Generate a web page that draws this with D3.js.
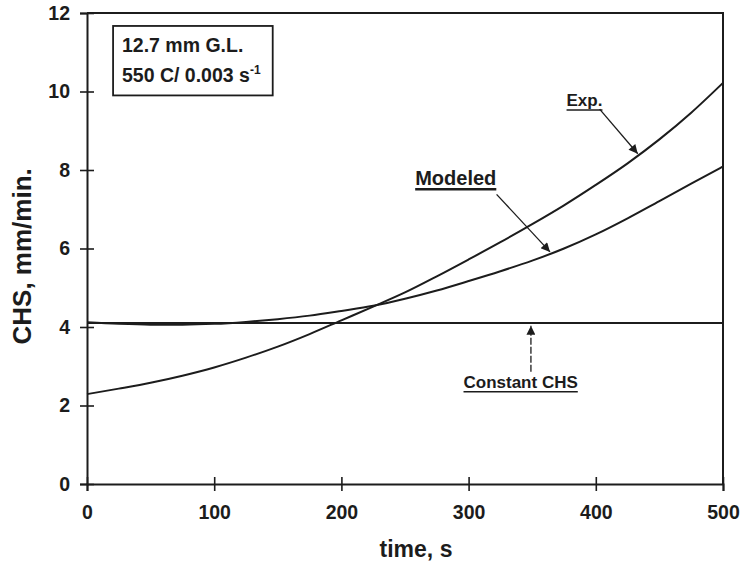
<!DOCTYPE html>
<html>
<head>
<meta charset="utf-8">
<script src="https://cdn.jsdelivr.net/npm/d3@7"></script>
<style>
  html, body { margin: 0; padding: 0; background: #fff; }
  svg { display: block; }
  text { font-family: "Liberation Sans", Arial, Helvetica, sans-serif; font-weight: bold; fill: #1c1c1c; }
</style>
</head>
<body>
<svg id="chart" width="741" height="564"></svg>
<script>
// Time axis (s) and CHS values (mm/min)
const time = [0, 25, 50, 75, 100, 125, 150, 175, 200, 225, 250, 275, 300, 325, 350, 375, 400, 425, 450, 475, 500];
const expCHS = [2.29, 2.43, 2.58, 2.76, 2.97, 3.22, 3.5, 3.82, 4.17, 4.52, 4.88, 5.29, 5.72, 6.16, 6.62, 7.1, 7.62, 8.17, 8.78, 9.46, 10.22];
const modeledCHS = [4.12, 4.08, 4.06, 4.06, 4.08, 4.13, 4.2, 4.29, 4.41, 4.54, 4.72, 4.93, 5.17, 5.42, 5.69, 6.0, 6.36, 6.77, 7.21, 7.65, 8.09];
const constantCHS = 4.1;

const xTicks = [0, 100, 200, 300, 400, 500];
const yTicks = [0, 2, 4, 6, 8, 10, 12];

const ink = "#1c1c1c";
const svg = d3.select("#chart");

const x = d3.scaleLinear().domain([0, 500]).range([87, 723]);
const y = d3.scaleLinear().domain([0, 12]).range([484, 13]);

// arrowhead
svg.append("defs").append("marker")
  .attr("id", "head")
  .attr("viewBox", "0 0 10 10")
  .attr("refX", 10).attr("refY", 5)
  .attr("markerUnits", "userSpaceOnUse")
  .attr("markerWidth", 11).attr("markerHeight", 9)
  .attr("orient", "auto")
  .append("path").attr("d", "M0,0 L10,5 L0,10 Z").attr("fill", ink);

// frame: top and right edges
svg.append("path")
  .attr("d", `M${x(0)},${y(12)} H${x(500)} V${y(0)}`)
  .attr("fill", "none").attr("stroke", ink).attr("stroke-width", 2);

// axes with ticks crossing the axis line
const xAxis = svg.append("g").attr("transform", `translate(0,${y(0)})`)
  .call(d3.axisBottom(x).tickValues(xTicks).tickSize(7).tickPadding(14).tickFormat(d3.format("d")));
xAxis.selectAll(".tick line").attr("y1", -7);
const yAxis = svg.append("g").attr("transform", `translate(${x(0)},0)`)
  .call(d3.axisLeft(y).tickValues(yTicks).tickSize(7).tickPadding(10).tickFormat(d3.format("d")));
yAxis.selectAll(".tick line").attr("x1", 7);
svg.selectAll(".domain").attr("stroke", ink).attr("stroke-width", 2);
svg.selectAll(".tick line").attr("stroke", ink).attr("stroke-width", 1.6);
svg.selectAll(".tick text").attr("font-size", 19.5).attr("fill", ink)
  .style("font-family", '"Liberation Sans", Arial, sans-serif').style("font-weight", "bold");

// axis titles
svg.append("text").attr("x", 416).attr("y", 557)
  .attr("text-anchor", "middle").attr("font-size", 23).text("time, s");
svg.append("text").attr("transform", `translate(31,${y(5.8)}) rotate(-90)`)
  .attr("text-anchor", "middle").attr("font-size", 26).text("CHS, mm/min.");

// curves
const line = d3.line().x(d => x(d[0])).y(d => y(d[1])).curve(d3.curveMonotoneX);
const lines = svg.append("g").attr("fill", "none").attr("stroke", ink).attr("stroke-width", 2);
lines.append("path").attr("d", line([[0, constantCHS], [500, constantCHS]]));
lines.append("path").attr("d", line(time.map((t, i) => [t, modeledCHS[i]])));
lines.append("path").attr("d", line(time.map((t, i) => [t, expCHS[i]])));

// value of a series at a given time
function at(series, t) {
  return d3.scaleLinear().domain(time).range(series)(t);
}

// annotation arrows
function arrow(t0, v0, t1, v1, dash) {
  svg.append("line")
    .attr("x1", x(t0)).attr("y1", y(v0)).attr("x2", x(t1)).attr("y2", y(v1))
    .attr("stroke", ink).attr("stroke-width", 1.3)
    .attr("stroke-dasharray", dash || null)
    .attr("marker-end", "url(#head)");
}
arrow(403, 9.55, 433, at(expCHS, 433) + 0.05);
arrow(322, 7.38, 364, at(modeledCHS, 364) + 0.05);
arrow(349, 2.86, 349, constantCHS - 0.07, "7,2");

// underlined labels
function label(t, v, txt, size, ulw) {
  const el = svg.append("text").attr("x", x(t)).attr("y", y(v)).attr("font-size", size).text(txt);
  const w = el.node().getComputedTextLength();
  svg.append("line").attr("x1", x(t)).attr("x2", x(t) + w)
    .attr("y1", y(v) + 4).attr("y2", y(v) + 4)
    .attr("stroke", ink).attr("stroke-width", ulw);
}
label(377, 9.63, "Exp.", 17, 1.5);
label(258, 7.61, "Modeled", 20, 2.5);
label(296, 2.45, "Constant CHS", 17, 1.5);

// condition box
svg.append("rect")
  .attr("x", x(20.5)).attr("y", y(11.67))
  .attr("width", x(146) - x(20.5)).attr("height", y(9.9) - y(11.67))
  .attr("fill", "none").attr("stroke", ink).attr("stroke-width", 1.8);
svg.append("text").attr("x", x(27.5)).attr("y", y(11.0)).attr("font-size", 19.5).text("12.7 mm G.L.");
const t2 = svg.append("text").attr("x", x(27.5)).attr("y", y(10.24)).attr("font-size", 19.5);
t2.append("tspan").text("550 C/ 0.003 s");
t2.append("tspan").attr("dy", -8).attr("font-size", 12).text("-1");
</script>
</body>
</html>
